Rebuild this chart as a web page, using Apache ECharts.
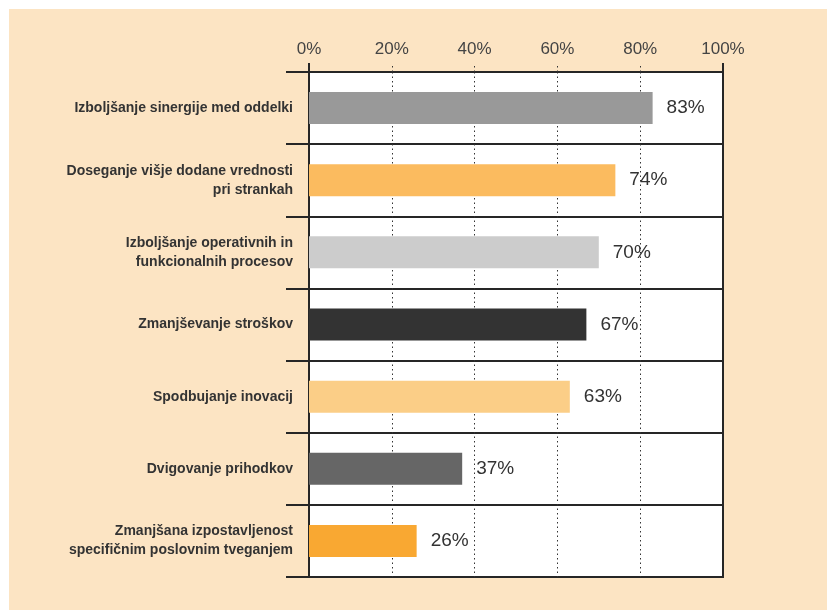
<!DOCTYPE html>
<html><head><meta charset="utf-8">
<script src="https://cdn.jsdelivr.net/npm/echarts@6/dist/echarts.min.js"></script>
<style>
html,body{margin:0;padding:0;background:#fff;}
#bg{position:absolute;left:9px;top:9px;width:818px;height:601px;background:#fce4c3;}
#chart{position:absolute;left:0;top:0;width:827px;height:610px;}
</style></head>
<body><div id="bg"></div><div id="chart"></div>
<script>
const categories = [
  'Izboljšanje sinergije med oddelki',
  'Doseganje višje dodane vrednosti\npri strankah',
  'Izboljšanje operativnih in\nfunkcionalnih procesov',
  'Zmanjševanje stroškov',
  'Spodbujanje inovacij',
  'Dvigovanje prihodkov',
  'Zmanjšana izpostavljenost\nspecifičnim poslovnim tveganjem'
];
const values = [83, 74, 70, 67, 63, 37, 26];
const barColors = ['#999999', '#fbbb5f', '#cccccc', '#333333', '#fbce87', '#666666', '#f9a832'];
const tickValues = [0, 20, 40, 60, 80, 100];

const dark = '#262626';
const chart = echarts.init(document.getElementById('chart'));
chart.setOption({
  backgroundColor: 'transparent',
  animation: false,
  grid: { left: 309, right: 104, top: 72, bottom: 33, show: true, backgroundColor: '#ffffff', borderColor: dark, borderWidth: 2 },
  xAxis: [
    {
      type: 'value', position: 'top', min: tickValues[0], max: tickValues[tickValues.length - 1], interval: 20,
      axisLine: { show: true, lineStyle: { color: dark, width: 2 } },
      axisTick: { show: true, length: 9, lineStyle: { color: '#333', width: 1, type: [1.5, 3] } },
      splitLine: { show: true, lineStyle: { color: '#333', width: 1, type: [1.5, 3] } },
      axisLabel: { formatter: '{value}%', fontSize: 17, color: '#444', margin: 14, fontFamily: 'Liberation Sans, Arial, sans-serif' }
    },
    {
      type: 'value', position: 'top', min: 0, max: 100, interval: 100,
      axisLine: { show: false },
      axisTick: { show: true, length: 9, lineStyle: { color: dark, width: 2 } },
      splitLine: { show: true, lineStyle: { color: dark, width: 2 } },
      axisLabel: { show: false }
    }
  ],
  yAxis: {
    type: 'category', inverse: true, data: categories,
    axisLine: { show: true, lineStyle: { color: dark, width: 2 } },
    axisTick: { show: true, length: 23, lineStyle: { color: dark, width: 2 } },
    splitLine: { show: true, lineStyle: { color: dark, width: 2 } },
    axisLabel: { fontSize: 14, fontWeight: 'bold', color: '#333', margin: 16, lineHeight: 19, align: 'right', fontFamily: 'Liberation Sans, Arial, sans-serif' }
  },
  series: [{
    type: 'bar', xAxisIndex: 0, barWidth: 32,
    data: values.map((v, i) => ({ value: v, itemStyle: { color: barColors[i] } })),
    label: { show: true, position: 'right', distance: 14, formatter: '{c}%', fontSize: 19, color: '#333', fontFamily: 'Liberation Sans, Arial, sans-serif' }
  }]
});
</script></body></html>
